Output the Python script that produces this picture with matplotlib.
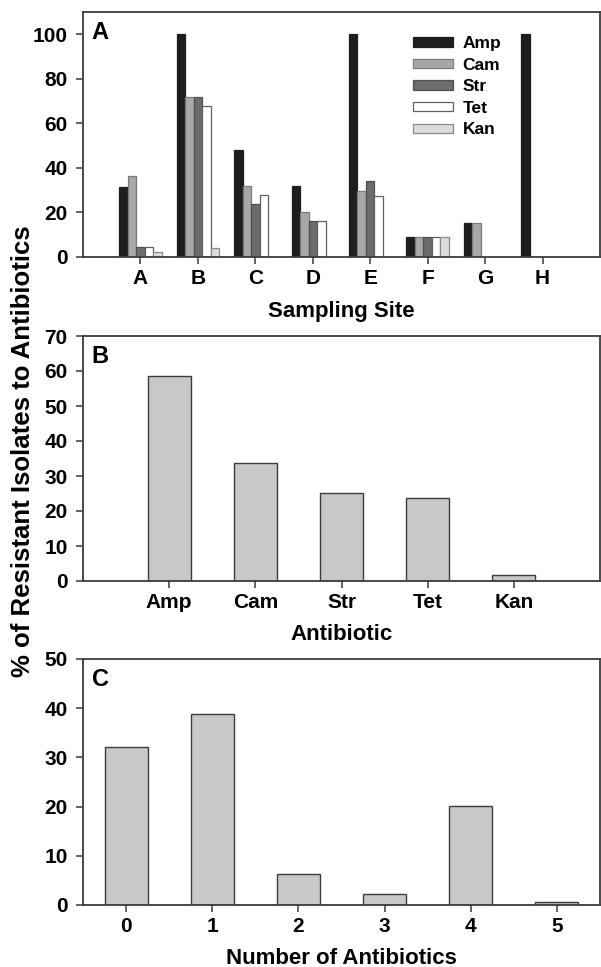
"""Antibiotic resistance of isolates: by site, by antibiotic, by number of antibiotics."""

import matplotlib
matplotlib.use("Agg")
import matplotlib.pyplot as plt
import numpy as np

plt.rcParams["font.family"] = ["Liberation Sans", "DejaVu Sans"]
plt.rcParams["font.weight"] = "bold"

# Panel A: % resistant per sampling site
sites = ["A", "B", "C", "D", "E", "F", "G", "H"]
antibiotics = ["Amp", "Cam", "Str", "Tet", "Kan"]
amp = [31.5, 100, 48, 32, 100, 9, 15.2, 100]
cam = [36.4, 72, 32, 20, 29.7, 9, 15.2, 0]
strp = [4.6, 72, 24, 16, 34, 9, 0, 0]
tet = [4.6, 68, 28, 16, 27.5, 9, 0, 0]
kan = [2.4, 4, 0, 0, 0, 9, 0, 0]

# Panel B: overall % resistant per antibiotic
overall = [58.5, 33.6, 25.2, 23.6, 1.7]

# Panel C: % of isolates resistant to N antibiotics
n_antibiotics = [0, 1, 2, 3, 4, 5]
multi = [32.2, 38.9, 6.25, 2.2, 20.1, 0.55]

site_series = [amp, cam, strp, tet, kan]
face = ["#1e1e1e", "#a8a8a8", "#6c6c6c", "#ffffff", "#dcdcdc"]
edge = ["#1e1e1e", "#7a7a7a", "#505050", "#606060", "#8a8a8a"]

W, H = 601, 967
fig = plt.figure(figsize=(W / 100, H / 100), dpi=100)


def axes_px(left, top, right, bottom):
    return fig.add_axes([left / W, 1 - bottom / H, (right - left) / W, (bottom - top) / H])


def style(ax):
    for s in ax.spines.values():
        s.set_color("#3c3c3c")
        s.set_linewidth(1.3)
    ax.tick_params(direction="out", length=5, width=1.1, color="#3c3c3c",
                   labelsize=15, pad=4)
    ax.tick_params(axis="y", pad=6)
    for lab in ax.get_xticklabels() + ax.get_yticklabels():
        lab.set_fontweight("bold")


# ---- A ----
axA = axes_px(83, 12, 600, 257)
x = np.arange(1, len(sites) + 1)
bw = 0.148
for i, (vals, fc, ec, name) in enumerate(zip(site_series, face, edge, antibiotics)):
    axA.bar(x + (i - 2) * bw, vals, width=bw, color=fc, edgecolor=ec,
            linewidth=0.9, label=name)
axA.set_xlim(0, 9)
axA.set_ylim(0, 110)
axA.set_xticks(x)
axA.set_xticklabels(sites)
axA.set_yticks(np.arange(0, 101, 20))
axA.set_xlabel("Sampling Site", fontsize=16, fontweight="bold", labelpad=9)
axA.text(0.017, 0.915, "A", transform=axA.transAxes, fontsize=17,
         fontweight="bold", va="center")
axA.legend(loc="upper left", bbox_to_anchor=(0.625, 0.93), frameon=False,
           fontsize=12.5, handlelength=2.3, handleheight=0.45,
           handletextpad=0.55, labelspacing=0.38, borderaxespad=0)
style(axA)

# ---- B ----
axB = axes_px(83, 336, 600, 581)
xb = np.arange(1, len(antibiotics) + 1)
axB.bar(xb, overall, width=0.5, color="#c8c8c8", edgecolor="#3c3c3c", linewidth=1.0)
axB.set_xlim(0, 6)
axB.set_ylim(0, 70)
axB.set_xticks(xb)
axB.set_xticklabels(antibiotics)
axB.set_yticks(np.arange(0, 71, 10))
axB.set_xlabel("Antibiotic", fontsize=16, fontweight="bold", labelpad=8)
axB.text(0.017, 0.915, "B", transform=axB.transAxes, fontsize=17,
         fontweight="bold", va="center")
style(axB)

# ---- C ----
axC = axes_px(83, 659, 600, 905)
axC.bar(n_antibiotics, multi, width=0.5, color="#c8c8c8", edgecolor="#3c3c3c",
        linewidth=1.0)
axC.set_xlim(-0.5, 5.5)
axC.set_ylim(0, 50)
axC.set_xticks(n_antibiotics)
axC.set_yticks(np.arange(0, 51, 10))
axC.set_xlabel("Number of Antibiotics", fontsize=16, fontweight="bold", labelpad=8)
axC.text(0.017, 0.915, "C", transform=axC.transAxes, fontsize=17,
         fontweight="bold", va="center")
style(axC)

fig.text(23 / W, 1 - 451 / H, "% of Resistant Isolates to Antibiotics",
         rotation=90, ha="center", va="center", fontsize=18.5, fontweight="bold")

fig.savefig("out.png", dpi=100)
